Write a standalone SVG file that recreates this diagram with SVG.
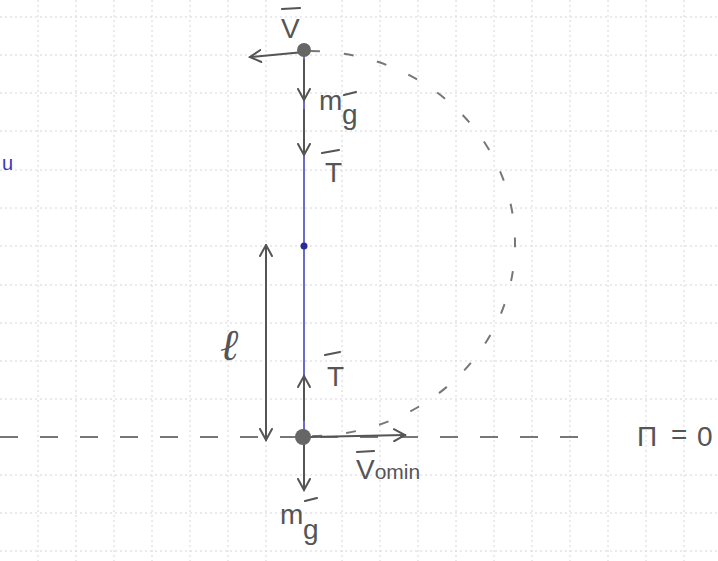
<svg xmlns="http://www.w3.org/2000/svg" width="718" height="561" viewBox="0 0 718 561">
<style>
.grid{stroke:#d6d6de;stroke-width:1;stroke-dasharray:2 3}
.pen{stroke:#555;stroke-width:2;fill:none;stroke-linecap:round;stroke-linejoin:round}
.lbl{font-family:"Liberation Sans",Arial,sans-serif;fill:#555;font-size:28px}
.bar{stroke:#555;stroke-width:2.2;stroke-linecap:round}
</style>
<defs>
<marker id="ah" viewBox="0 0 14 14" refX="12" refY="7" markerWidth="14" markerHeight="14" markerUnits="userSpaceOnUse" orient="auto">
<path d="M1,1 L12,7 L1,13" fill="none" stroke="#555" stroke-width="2" stroke-linecap="round"/>
</marker>
<marker id="ahs" viewBox="0 0 14 14" refX="1" refY="7" markerWidth="14" markerHeight="14" markerUnits="userSpaceOnUse" orient="auto">
<path d="M12,1 L1,7 L12,13" fill="none" stroke="#555" stroke-width="2" stroke-linecap="round"/>
</marker>
</defs>
<rect width="718" height="561" fill="#fff"/>
<g id="grid">
<path class="grid" d="M38,0V561M76,0V561M114,0V561M152,0V561M190,0V561M228,0V561M266,0V561M342,0V561M380,0V561M418,0V561M456,0V561M494,0V561M532,0V561M570,0V561M608,0V561M646,0V561M684,0V561"/>
<path class="grid" d="M0,17H718M0,55H718M0,93H718M0,131H718M0,170H718M0,208H718M0,246H718M0,285H718M0,323H718M0,361H718M0,399H718M0,475H718M0,513H718M0,551H718"/>
</g>
<g id="connectors">
<line x1="304" y1="50" x2="304" y2="437" stroke="#3a3ab8" stroke-width="1.5"/>
<line x1="0" y1="437" x2="600" y2="437" stroke="#777" stroke-width="2" stroke-dasharray="18 22"/>
<path d="M310,51 A205,192.5 0 0 1 310,436" fill="none" stroke="#777" stroke-width="2" stroke-dasharray="10 24"/>
<line class="pen" x1="304" y1="52" x2="250" y2="57" marker-end="url(#ah)"/>
<line class="pen" x1="304" y1="60" x2="304" y2="100" marker-end="url(#ah)"/>
<line class="pen" x1="304" y1="110" x2="304" y2="155" marker-end="url(#ah)"/>
<line class="pen" x1="304" y1="420" x2="304" y2="376" marker-end="url(#ah)"/>
<line class="pen" x1="310" y1="437" x2="405" y2="435" marker-end="url(#ah)"/>
<line class="pen" x1="304" y1="445" x2="304" y2="490" marker-end="url(#ah)"/>
<line class="pen" x1="266" y1="245" x2="266" y2="440" marker-start="url(#ahs)" marker-end="url(#ah)" stroke-width="1.5"/>
</g>
<g id="top-ball"><circle cx="304" cy="50" r="7" fill="#666"/></g>
<g id="center"><circle cx="304" cy="246" r="3.5" fill="#2a2a9a"/></g>
<g id="bottom-ball"><circle cx="303" cy="437" r="8" fill="#666"/></g>
<g id="labels">
<text class="lbl" x="281" y="38">V</text><line class="bar" x1="282" y1="9" x2="300" y2="8"/>
<text class="lbl" x="319" y="110" font-size="25">m</text><text class="lbl" x="342" y="124" font-size="30">g</text><line class="bar" x1="344" y1="95" x2="356" y2="92"/>
<text class="lbl" x="325" y="182">T</text><line class="bar" x1="322" y1="153" x2="339" y2="150"/>
<text class="lbl" x="327" y="386">T</text><line class="bar" x1="325" y1="355" x2="340" y2="352"/>
<text class="lbl" x="356" y="479">V<tspan font-size="21">omin</tspan></text><line class="bar" x1="357" y1="452" x2="374" y2="451"/>
<text class="lbl" x="280" y="524" font-size="25">m</text><text class="lbl" x="303" y="539" font-size="30">g</text><line class="bar" x1="305" y1="501" x2="317" y2="498"/>
<text x="220" y="360" font-family="DejaVu Serif,serif" font-style="italic" font-size="44" fill="#555">ℓ</text>
<text class="lbl" x="637" y="446" font-size="34">П</text>
<text class="lbl" x="671" y="444" font-size="26">=</text>
<text class="lbl" x="697" y="446" font-size="34">0</text>
<text x="2" y="170" font-family="Liberation Sans,sans-serif" font-size="20" fill="#3a3ab8">u</text>
</g>
</svg>
